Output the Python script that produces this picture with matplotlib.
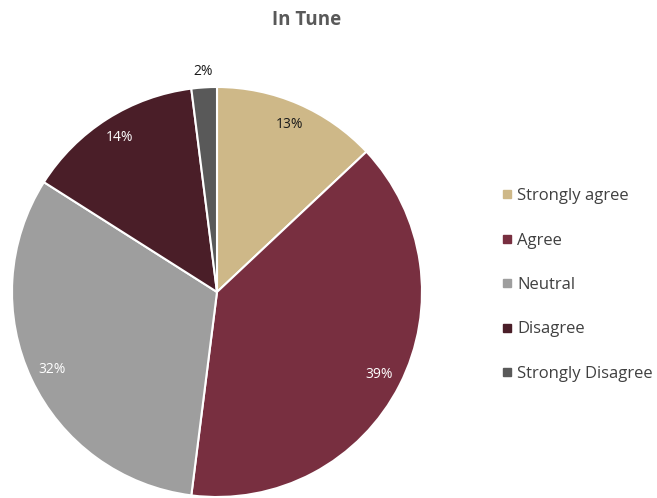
import matplotlib.pyplot as plt
from matplotlib.lines import Line2D

plt.rcParams['font.family'] = ['Open Sans', 'DejaVu Sans']

categories = ['Strongly agree', 'Agree', 'Neutral', 'Disagree', 'Strongly Disagree']
values = [13, 39, 32, 14, 2]
colors = ['#CEB888', '#782F40', '#9E9E9E', '#4A1E28', '#595959']
pct_colors = ['#1a1a1a', 'white', 'white', 'white', '#1a1a1a']

W, H = 657, 498
fig = plt.figure(figsize=(W / 100, H / 100), dpi=100)
cx, cy, r = 217, 292, 205
ax = fig.add_axes([(cx - r) / W, 1 - (cy + r) / H, 2 * r / W, 2 * r / H])

wedges, texts, autotexts = ax.pie(
	values, colors=colors, startangle=90, counterclock=False,
	autopct=lambda p: '%d%%' % round(p), pctdistance=0.89,
	wedgeprops=dict(edgecolor='white', linewidth=1.5),
	textprops=dict(fontsize=10))
for t, c in zip(autotexts, pct_colors):
	t.set_color(c)
# the small slice gets its label outside
x, y = autotexts[-1].get_position()
autotexts[-1].set_position((x * 1.21, y * 1.21))
ax.set_xlim(-1, 1)
ax.set_ylim(-1, 1)
ax.set_aspect('equal')

fig.text(307 / W, 1 - 20 / H, 'In Tune', ha='center', va='center',
	fontsize=13.5, fontweight='bold', color='#595959')

handles = [Line2D([], [], marker='s', linestyle='none', markersize=6,
	markerfacecolor=c, markeredgecolor=c) for c in colors]
fig.legend(handles, categories, loc='center left',
	bbox_to_anchor=(488 / W, 1 - 285 / H), frameon=False,
	fontsize=12, labelspacing=1.7, handlelength=0.5, handletextpad=0.35,
	labelcolor='#404040')

fig.savefig('out.png', dpi=100)
